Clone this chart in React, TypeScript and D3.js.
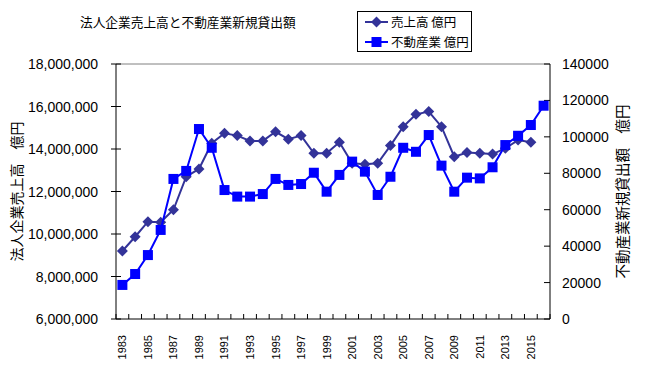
import React from "react";
import * as d3 from "d3";

const years: number[] = [
  1983, 1984, 1985, 1986, 1987, 1988, 1989, 1990, 1991, 1992, 1993, 1994, 1995, 1996, 1997, 1998, 1999,
  2000, 2001, 2002, 2003, 2004, 2005, 2006, 2007, 2008, 2009, 2010, 2011, 2012, 2013, 2014, 2015, 2016,
];
// 売上高 (億円) — ends 2015
const sales: number[] = [
  9200000, 9870000, 10580000, 10550000, 11140000, 12700000, 13060000, 14270000, 14740000, 14630000,
  14380000, 14380000, 14810000, 14460000, 14630000, 13800000, 13800000, 14320000, 13330000, 13280000,
  13330000, 14160000, 15050000, 15630000, 15760000, 15050000, 13640000, 13830000, 13800000, 13760000,
  14030000, 14420000, 14320000,
];
// 不動産業 新規貸出額 (億円)
const loans: number[] = [
  18700, 24700, 35100, 48900, 76900, 81300, 104300, 94000, 70800, 67200, 67200, 68600, 76900, 73600,
  74100, 80300, 69900, 79100, 86400, 80900, 68100, 78100, 94000, 91800, 101000, 84200, 69900, 77600,
  77200, 83300, 95500, 100600, 106500, 117100,
];
const leftTicks: number[] = [6000000, 8000000, 10000000, 12000000, 14000000, 16000000, 18000000];
const rightTicks: number[] = [0, 20000, 40000, 60000, 80000, 100000, 120000, 140000];

const title = "法人企業売上高と不動産業新規貸出額";
const leftTitle = "法人企業売上高\u3000億円";
const rightTitle = "不動産業新規貸出額\u3000億円";
const legendLabels = ["売上高 億円", "不動産業 億円"];

const C1 = "#333399";
const C2 = "#0000FF";
const JP = "'Noto Sans CJK JP', sans-serif";
const NUM = "'Liberation Sans', Arial, sans-serif";

export default function App() {
  const L = 116, R = 550, T = 64, B = 319;
  const x = d3.scaleBand<number>().domain(years).range([L, R]);
  const cx = (y: number) => (x(y) as number) + x.bandwidth() / 2;
  const yL = d3.scaleLinear().domain([6000000, 18000000]).range([B, T]);
  const yR = d3.scaleLinear().domain([0, 140000]).range([B, T]);
  const fmt = d3.format(",");

  const salesPts = sales.map((v, i) => [cx(years[i]), yL(v)] as [number, number]);
  const loanPts = loans.map((v, i) => [cx(years[i]), yR(v)] as [number, number]);
  const line = d3.line();

  const diamond = (px: number, py: number, r: number) =>
    `M${px},${py - r}L${px + r},${py}L${px},${py + r}L${px - r},${py}Z`;

  return (
    <svg width={650} height={380} style={{ position: "absolute", left: 0, top: 0, background: "#fff" }}>
      <rect x={0} y={0} width={650} height={380} fill="#fff" />
      <text x={80} y={27} fontFamily={JP} fontSize={12.7} fill="#000">{title}</text>

      {/* plot frame */}
      <line x1={L} x2={R} y1={T} y2={T} stroke="#808080" strokeWidth={1} />
      <line x1={L} x2={L} y1={T} y2={B} stroke="#000" strokeWidth={1} />
      <line x1={R} x2={R} y1={T} y2={B} stroke="#000" strokeWidth={1} />
      <line x1={L} x2={R} y1={B} y2={B} stroke="#000" strokeWidth={1} />

      {/* left axis */}
      {leftTicks.map((t) => (
        <g key={"l" + t}>
          <line x1={L - 5} x2={L + 5} y1={yL(t)} y2={yL(t)} stroke="#000" />
          <text x={98} y={yL(t)} dy="0.36em" textAnchor="end" fontFamily={NUM} fontSize={14} fill="#000">
            {fmt(t)}
          </text>
        </g>
      ))}
      {/* right axis */}
      {rightTicks.map((t) => (
        <g key={"r" + t}>
          <line x1={R - 6} x2={R} y1={yR(t)} y2={yR(t)} stroke="#000" />
          <text x={562} y={yR(t)} dy="0.36em" textAnchor="start" fontFamily={NUM} fontSize={14} fill="#000">
            {t}
          </text>
        </g>
      ))}
      {/* x axis ticks */}
      {years.map((yv) => (
        <line key={"t" + yv} x1={x(yv) as number} x2={x(yv) as number} y1={B - 5} y2={B} stroke="#000" />
      ))}
      <line x1={R} x2={R} y1={B - 5} y2={B} stroke="#000" />
      {years.filter((yv) => yv % 2 === 1).map((yv) => (
        <text
          key={"x" + yv}
          transform={`translate(${cx(yv)},335) rotate(-90)`}
          textAnchor="end"
          dy="0.36em"
          fontFamily={NUM}
          fontSize={11}
          fill="#000"
        >
          {yv}
        </text>
      ))}

      {/* axis titles */}
      <text transform={`translate(17,${(T + B) / 2}) rotate(-90)`} textAnchor="middle" dy="0.36em" fontFamily={JP} fontSize={14} fill="#000">
        {leftTitle}
      </text>
      <text transform={`translate(623,${(T + B) / 2}) rotate(-90)`} textAnchor="middle" dy="0.36em" fontFamily={JP} fontSize={14.5} fill="#000">
        {rightTitle}
      </text>

      {/* series 1 */}
      <path d={line(salesPts) as string} fill="none" stroke={C1} strokeWidth={2} />
      {salesPts.map(([px, py], i) => (
        <path key={"d" + i} d={diamond(px, py, 5.5)} fill={C1} />
      ))}
      {/* series 2 */}
      <path d={line(loanPts) as string} fill="none" stroke={C2} strokeWidth={2} />
      {loanPts.map(([px, py], i) => (
        <rect key={"s" + i} x={px - 5} y={py - 5} width={10} height={10} fill={C2} />
      ))}

      {/* legend */}
      <rect x={357.5} y={11.5} width={114} height={40} fill="#fff" stroke="#000" strokeWidth={1} />
      <line x1={365} x2={388} y1={22} y2={22} stroke={C1} strokeWidth={2} />
      <path d={diamond(376.5, 22, 5.5)} fill={C1} />
      <text x={391} y={22} dy="0.36em" fontFamily={JP} fontSize={12.5} fill="#000">{legendLabels[0]}</text>
      <line x1={365} x2={388} y1={42} y2={42} stroke={C2} strokeWidth={2} />
      <rect x={371.5} y={37} width={10} height={10} fill={C2} />
      <text x={391} y={42} dy="0.36em" fontFamily={JP} fontSize={12.5} fill="#000">{legendLabels[1]}</text>
    </svg>
  );
}
